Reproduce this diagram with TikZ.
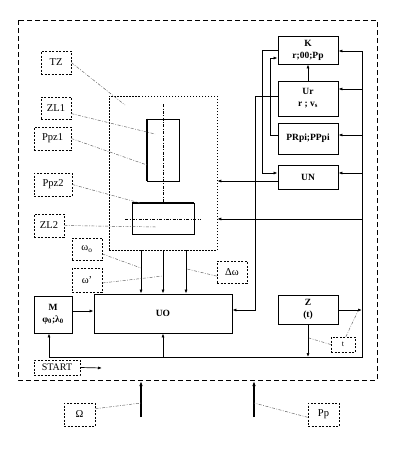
\documentclass[tikz,border=0pt]{standalone}
\usepackage{fontspec}
\setmainfont{Liberation Serif}
\usetikzlibrary{arrows.meta,calc}
\begin{document}
\begin{tikzpicture}[x=1pt,y=-1pt,
  box/.style={draw, line width=0.8pt, font=\bfseries\fontsize{9.5}{12}\selectfont, align=center, inner sep=0pt},
  lab/.style={draw, line width=0.6pt, dash pattern=on 2pt off 1.5pt, font=\fontsize{10.5}{12}\selectfont, inner sep=0pt, minimum width=30pt, minimum height=23pt},
  region/.style={draw, line width=0.6pt, dash pattern=on 1.5pt off 1.5pt, inner sep=0pt},
  outerbox/.style={draw, line width=0.8pt, dash pattern=on 5pt off 3pt},
  lead/.style={gray!70!black, line width=0.45pt, dash pattern=on 3pt off 1.5pt on 0.8pt off 1.5pt},
  axisline/.style={line width=0.5pt, dash pattern=on 3pt off 1.5pt on 0.8pt off 1.5pt},
  arr/.style={line width=0.7pt, -{Latex[length=4pt,width=3pt]}},
  bigarr/.style={line width=1.4pt, -{Latex[length=5pt,width=3.5pt]}},
  ln/.style={line width=0.7pt}]
\useasboundingbox (0,0) rectangle (400,453);
\draw[outerbox] (18,20) rectangle (377,380);

% main boxes
\node[box, minimum width=60pt, minimum height=28pt] (K) at (308,50) {K\\r;00;Pp};
\node[box, minimum width=60pt, minimum height=35pt] (Ur) at (308,98.5) {Ur\\r ; v\textsubscript{s}};
\node[box, minimum width=60pt, minimum height=31pt] (PR) at (308,138.5) {PRpi;PPpi};
\node[box, minimum width=60pt, minimum height=24pt] (UN) at (308,177) {UN};
\node[box, minimum width=38pt, minimum height=37pt] (M) at (53,314.5) {M\\φ\textsubscript{0};λ\textsubscript{0}};
\node[box, minimum width=138pt, minimum height=39pt] (UO) at (163,313.5) {UO};
\node[box, minimum width=60pt, minimum height=29pt] (Z) at (308,309.5) {Z\\(t)};

% TZ region
\node[region, minimum width=108pt, minimum height=154pt] (TZ) at (163,173) {};
\draw[axisline] (163,104) -- (163,203);
\draw[axisline] (125,219) -- (200,219);
\node[draw, line width=0.8pt, minimum width=32pt, minimum height=62pt, inner sep=0pt] (ZL1) at (163,150) {};
\node[draw, line width=0.8pt, minimum width=62pt, minimum height=31pt, inner sep=0pt] (ZL2) at (163,218.5) {};
\draw[line width=2.2pt] (ZL1.north west) -- (ZL1.south west);
\draw[line width=2.2pt] (ZL2.north west) -- (ZL2.north east);

% labels
\node[lab] (TZl) at (56,62.5) {TZ};
\node[lab, minimum height=22pt] (ZL1l) at (56,108) {ZL1};
\node[lab, minimum width=37pt] (Ppz1l) at (52.5,138.5) {Ppz1};
\node[lab, minimum width=38pt] (Ppz2l) at (53,184.5) {Ppz2};
\node[lab] (ZL2l) at (49,225.5) {ZL2};
\node[lab, minimum height=22pt] (w0l) at (87,249) {ω\textsubscript{o}};
\node[lab, minimum height=24pt] (w1l) at (87,280) {ω'};
\node[lab, minimum height=22pt] (dwl) at (232,272) {Δω};
\node[lab, minimum width=46pt, minimum height=15pt, font=\fontsize{10}{11}\selectfont] (START) at (57,367.5) {START};
\node[lab, minimum width=24pt, minimum height=15pt, font=\fontsize{8}{9}\selectfont] (tl) at (343,344.5) {t};
\node[lab, minimum width=31pt] (Oml) at (79.5,414.5) {Ω};
\node[lab, minimum width=31pt] (Ppl) at (323.5,414.5) {Pp};

% right bus
\coordinate (rb1) at (362,51);
\coordinate (rb2) at (362,89);
\coordinate (rb3) at (362,135);
\coordinate (rb4) at (362,173);
\coordinate (rb5) at (362,219);
\coordinate (rb6) at (362,310);
\coordinate (rbB) at (362,357);
\coordinate (botL) at (49,357);
\draw[ln] (rb1) -- (rbB) -- (botL);
\draw[arr] (rb1) -- (K.east |- rb1);
\draw[arr] (rb2) -- (Ur.east |- rb2);
\draw[arr] (rb3) -- (PR.east |- rb3);
\draw[arr] (rb4) -- (UN.east |- rb4);
\draw[arr] (rb5) -- (TZ.east |- rb5);
\draw[arr] (Z.east |- rb6) -- (rb6);

% internal connections
\draw[arr] (Ur.north) -- (K.south);
\coordinate (c1) at (262,50);
\coordinate (c2) at (262,173);
\draw[arr] (K.west) -- (c1) -- (c2) -- (UN.west |- c2);
\coordinate (c3) at (270,135);
\coordinate (c4) at (270,58);
\draw[arr] (PR.west |- c3) -- (c3) -- (c4) -- (K.west |- c4);
\coordinate (c5) at (255,96);
\coordinate (c6) at (255,310);
\draw[arr] (Ur.west |- c5) -- (c5) -- (c6) -- (UO.east |- c6);
\coordinate (c7) at (300,181);
\draw[arr] (UN.west |- c7) -- (TZ.east |- c7);

\coordinate (d1) at (141,250);
\coordinate (d2) at (163,250);
\coordinate (d3) at (186,250);
\draw[arr] (d1) -- (d1 |- UO.north);
\draw[arr] (d2) -- (d2 |- UO.north);
\draw[arr] (d3) -- (d3 |- UO.north);

\draw[arr] (botL) -- (botL |- M.south);
\coordinate (e1) at (163,357);
\draw[arr] (e1) -- (UO.south);
\coordinate (e2) at (308,357);
\draw[arr] (Z.south) -- (e2);
\coordinate (f1) at (80,311);
\draw[arr] (M.east |- f1) -- (UO.west |- f1);
\coordinate (st) at (102,368);
\draw[arr] (START.east) -- (st);

% external inputs
\coordinate (om1) at (141,417);
\coordinate (om2) at (141,381);
\draw[bigarr] (om1) -- (om2);
\coordinate (pp1) at (254,417);
\coordinate (pp2) at (254,381);
\draw[bigarr] (pp1) -- (pp2);

% leaders
\coordinate (p1) at (125,105);
\coordinate (p2) at (155,134);
\coordinate (p3) at (147,165);
\coordinate (p4) at (140,203);
\coordinate (p5) at (157,227);
\coordinate (p6) at (141,268);
\coordinate (p7) at (163,276);
\coordinate (p8) at (187,269);
\coordinate (p9) at (358,311);
\coordinate (p10) at (309,338);
\coordinate (p11) at (141,403);
\coordinate (p12) at (254,403);
\draw[lead] (TZl.east) -- (p1);
\draw[lead] (ZL1l.-20) -- (p2);
\draw[lead] (Ppz1l.east) -- (p3);
\draw[lead] (Ppz2l.east) -- (p4);
\draw[lead] (ZL2l.east) -- (p5);
\draw[lead] (w0l.-18) -- (p6);
\draw[lead] (w1l.-11) -- (p7);
\draw[lead] (dwl.-165) -- (p8);
\draw[lead] (tl.70) -- (p9);
\draw[lead] (tl.west) -- (p10);
\draw[lead] (Oml.20) -- (p11);
\draw[lead] (Ppl.190) -- (p12);
\end{tikzpicture}
\end{document}
